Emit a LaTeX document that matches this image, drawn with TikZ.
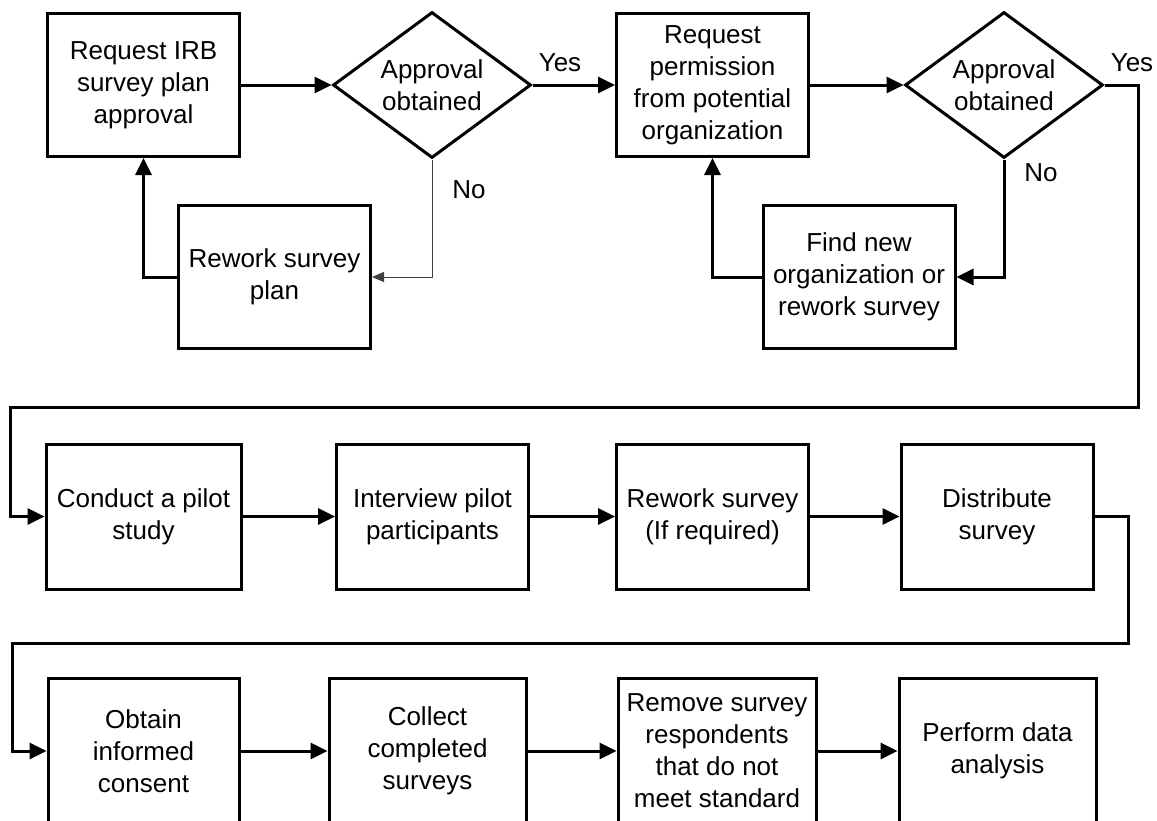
\documentclass[tikz,border=0pt]{standalone}
\usepackage{fontspec}
\setmainfont{Liberation Sans}
\usetikzlibrary{shapes.geometric,arrows.meta}
\begin{document}
\begin{tikzpicture}[x=1pt,y=-1pt,
  every node/.style={font=\fontsize{26}{32}\selectfont, align=center},
  stepbox/.style={draw, line width=3pt, rectangle, inner sep=0pt, minimum width=192pt, minimum height=143pt},
  decision/.style={draw, line width=3pt, diamond, aspect=1.356, inner sep=0pt, minimum width=198pt, minimum height=146pt},
  arr/.style={line width=3pt, -{Triangle[length=17pt,width=16pt]}},
  thinarr/.style={line width=1pt, draw=black!75, -{Triangle[length=12pt,width=10pt]}},
  lbl/.style={inner sep=0pt}
]
\clip (0,0) rectangle (1157,820);
\fill[white] (0,0) rectangle (1157,820);

% Row 1
\node[stepbox] (b1) at (143.5,85) {Request IRB\\survey plan\\approval};
\node[decision] (d1) at (432,85) {Approval\\obtained};
\node[stepbox] (b2) at (712.5,85) {Request\\permission\\from potential\\organization};
\node[decision] (d2) at (1004,85) {Approval\\obtained};
\node[stepbox] (r1) at (274.5,277) {Rework survey\\plan};
\node[stepbox] (r2) at (859,277) {Find new\\organization or\\rework survey};

% Row 2
\node[stepbox, minimum width=195pt, minimum height=145pt] (c1) at (143.5,516.5) {Conduct a pilot\\study};
\node[stepbox, minimum height=145pt] (c2) at (432.5,516.5) {Interview pilot\\participants};
\node[stepbox, minimum height=145pt] (c3) at (712.5,516.5) {Rework survey\\(If required)};
\node[stepbox, minimum height=145pt] (c4) at (997,516.5) {Distribute\\survey};

% Row 3
\node[stepbox, minimum width=191pt, minimum height=146pt] (e1) at (143.5,751) {Obtain\\informed\\consent};
\node[stepbox, minimum width=197pt, minimum height=146pt] (e2) at (427.5,751) {Collect\\completed\\surveys};
\node[stepbox, minimum width=198pt, minimum height=146pt] (e3) at (717,751) {Remove survey\\respondents\\that do not\\meet standard};
\node[stepbox, minimum width=197pt, minimum height=146pt] (e4) at (997.5,751) {Perform data\\analysis};

% Labels
\node[lbl] (y1) at (560,63) {Yes};
\node[lbl] (y2) at (1132,63) {Yes};
\node[lbl] (n1) at (469,190) {No};
\node[lbl] (n2) at (1041,173) {No};

% Junction coordinates
\coordinate (j1) at (1138,407);
\coordinate (j2) at (10,407);
\coordinate (k1) at (1128,643);
\coordinate (k2) at (12,643);

% Connectors row 1
\draw[arr] (b1.east) -- (d1.west);
\draw[arr] (d1.east) -- (b2.west);
\draw[arr] (b2.east) -- (d2.west);
\draw[thinarr] (d1.south) |- (r1.east);
\draw[arr] (r1.west) -| (b1.south);
\draw[arr] (d2.south) |- (r2.east);
\draw[arr] (r2.west) -| (b2.south);
\draw[arr] (d2.east) -| (j1) -- (j2) |- (c1.west);

% Row 2
\draw[arr] (c1.east) -- (c2.west);
\draw[arr] (c2.east) -- (c3.west);
\draw[arr] (c3.east) -- (c4.west);
\draw[arr] (c4.east) -| (k1) -- (k2) |- (e1.west);

% Row 3
\draw[arr] (e1.east) -- (e2.west);
\draw[arr] (e2.east) -- (e3.west);
\draw[arr] (e3.east) -- (e4.west);
\end{tikzpicture}
\end{document}
